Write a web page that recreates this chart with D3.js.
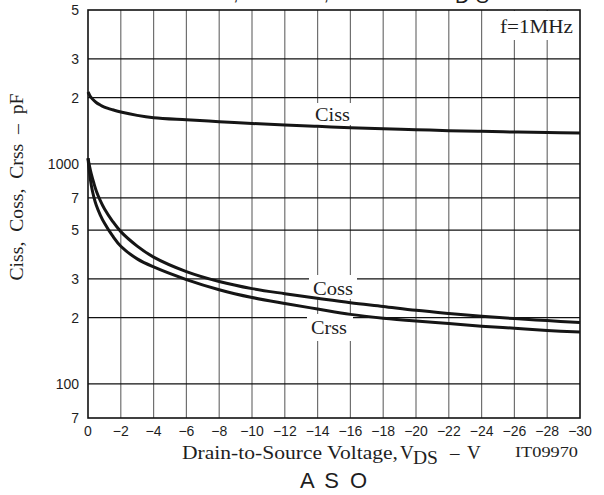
<!DOCTYPE html>
<html>
<head>
<meta charset="utf-8">
<script src="https://cdn.jsdelivr.net/npm/d3@7/dist/d3.min.js"></script>
<style>
  html, body { margin: 0; padding: 0; background: #fff; }
  svg { display: block; }
</style>
</head>
<body>
<svg id="chart" width="604" height="495"></svg>
<script>
// Drain-to-source voltage sample points (V)
const vds = [0, -0.1, -0.2, -0.35, -0.5, -0.75, -1, -1.5, -2, -3, -4, -6, -8, -10, -12, -14, -16, -18, -20, -22, -24, -26, -28, -30];

// Capacitances (pF) at f = 1 MHz
const ciss = [2120, 2050, 2000, 1945, 1900, 1850, 1810, 1760, 1720, 1660, 1620, 1585, 1555, 1525, 1500, 1480, 1460, 1445, 1430, 1415, 1405, 1395, 1388, 1382];
const coss = [1060, 970, 900, 820, 755, 680, 625, 548, 492, 423, 377, 324, 292, 271, 257, 245, 234, 225, 216, 209, 203, 198, 194, 190];
const crss = [1060, 900, 800, 710, 650, 585, 538, 470, 422, 370, 340, 298, 268, 247, 232, 219, 207, 199, 193, 188, 183, 179, 175, 172];

// Axis ticks
const xTicks = [0, -2, -4, -6, -8, -10, -12, -14, -16, -18, -20, -22, -24, -26, -28, -30];
const yTicks = [5000, 3000, 2000, 1000, 700, 500, 300, 200, 100, 70];
const yTickLabels = ["5", "3", "2", "1000", "7", "5", "3", "2", "100", "7"];

const svg = d3.select("#chart");
const plotL = 88, plotR = 580, plotT = 10, plotB = 418;

const x = d3.scaleLinear().domain([0, -30]).range([plotL, plotR]);
const y = d3.scaleLog().domain([70, 5000]).range([plotB, plotT]);

const sans = "'Liberation Sans', Arial, sans-serif";
const serif = "'Liberation Serif', 'Times New Roman', serif";
const ink = "#1e1e1e";

// Heading above the plot (runs off the top edge)
const head = svg.append("text").attr("y", 0).attr("font-family", sans).attr("font-size", 20).attr("fill", ink);
head.append("tspan").attr("x", 194).text("Ciss,");
head.append("tspan").attr("x", 278).text("Coss,");
head.append("tspan").attr("x", 362).text("Crss  --  V");
head.append("tspan").attr("x", 455).attr("dy", 3).attr("textLength", 34).text("DS");

// Vertical grid
svg.append("g").selectAll("line").data(xTicks.slice(1, -1)).join("line")
  .attr("x1", d => x(d)).attr("x2", d => x(d))
  .attr("y1", plotT).attr("y2", plotB)
  .attr("stroke", "#707070").attr("stroke-width", 1.2);

// Horizontal grid
svg.append("g").selectAll("line").data(yTicks.slice(1, -1)).join("line")
  .attr("x1", plotL).attr("x2", plotR)
  .attr("y1", d => y(d)).attr("y2", d => y(d))
  .attr("stroke", "#111").attr("stroke-width", 1.2);

// Label backgrounds break the grid
const bgs = [
  [311, 103, 46, 22],
  [309, 275, 48, 24],
  [307, 314, 46, 27],
  [496, 11, 83, 29]
];
svg.append("g").selectAll("rect").data(bgs).join("rect")
  .attr("x", d => d[0]).attr("y", d => d[1]).attr("width", d => d[2]).attr("height", d => d[3])
  .attr("fill", "#fff");

// Frame
svg.append("rect").attr("x", plotL).attr("y", plotT)
  .attr("width", plotR - plotL).attr("height", plotB - plotT)
  .attr("fill", "none").attr("stroke", "#111").attr("stroke-width", 1.6);

// Curves
const line = d3.line().x(d => x(d[0])).y(d => y(d[1])).curve(d3.curveCatmullRom.alpha(0.5));
[ciss, coss, crss].forEach(series => {
  svg.append("path")
    .datum(vds.map((v, i) => [v, series[i]]))
    .attr("d", line)
    .attr("fill", "none").attr("stroke", "#151515")
    .attr("stroke-width", 3).attr("stroke-linejoin", "round");
});

// Curve labels
const curveLabels = [["Ciss", 315, 121, 35], ["Coss", 313, 295, 40], ["Crss", 311, 334, 36]];
svg.append("g").selectAll("text").data(curveLabels).join("text")
  .attr("x", d => d[1]).attr("y", d => d[2])
  .attr("textLength", d => d[3]).attr("lengthAdjust", "spacingAndGlyphs")
  .attr("font-family", serif).attr("font-size", 19).attr("fill", ink)
  .text(d => d[0]);

svg.append("text").attr("x", 500).attr("y", 33)
  .attr("textLength", 73).attr("lengthAdjust", "spacingAndGlyphs")
  .attr("font-family", serif).attr("font-size", 18).attr("fill", ink).text("f=1MHz");

// X tick labels
svg.append("g").selectAll("text").data(xTicks).join("text")
  .attr("x", d => x(d)).attr("y", 436).attr("text-anchor", "middle")
  .attr("font-family", sans).attr("font-size", 14).attr("fill", ink)
  .text(d => d === 0 ? "0" : "\u2212" + Math.abs(d));

// Y tick labels
svg.append("g").selectAll("text").data(yTicks).join("text")
  .attr("x", 79).attr("y", d => y(d) + 5).attr("text-anchor", "end")
  .attr("font-family", sans).attr("font-size", 14).attr("fill", ink)
  .text((d, i) => yTickLabels[i]);

// Y axis title
svg.append("text").attr("transform", "translate(23,187) rotate(-90)")
  .attr("text-anchor", "middle").attr("font-family", serif).attr("font-size", 19).attr("fill", ink)
  .attr("textLength", 187).attr("lengthAdjust", "spacingAndGlyphs")
  .attr("xml:space", "preserve")
  .text("Ciss,  Coss,  Crss  \u2013  pF");

// X axis title
const xt = svg.append("g").attr("font-family", serif).attr("fill", ink);
xt.append("text").attr("x", 182).attr("y", 459).attr("font-size", 19)
  .attr("textLength", 216).attr("lengthAdjust", "spacingAndGlyphs")
  .text("Drain-to-Source Voltage,");
xt.append("text").attr("x", 400).attr("y", 459).attr("font-size", 19).text("V");
xt.append("text").attr("x", 413).attr("y", 464).attr("font-size", 19)
  .attr("textLength", 25).attr("lengthAdjust", "spacingAndGlyphs").text("DS");
xt.append("text").attr("x", 450).attr("y", 459).attr("font-size", 19).text("\u2013");
xt.append("text").attr("x", 467).attr("y", 459).attr("font-size", 19).text("V");

svg.append("text").attr("x", 515).attr("y", 457)
  .attr("textLength", 63).attr("lengthAdjust", "spacingAndGlyphs")
  .attr("font-family", serif).attr("font-size", 14).attr("fill", ink).text("IT09970");

svg.append("text").attr("x", 300).attr("y", 488)
  .attr("textLength", 67).attr("lengthAdjust", "spacing")
  .attr("font-family", sans).attr("font-size", 22).attr("fill", ink)
  .attr("xml:space", "preserve").text("A S O");
</script>
</body>
</html>
